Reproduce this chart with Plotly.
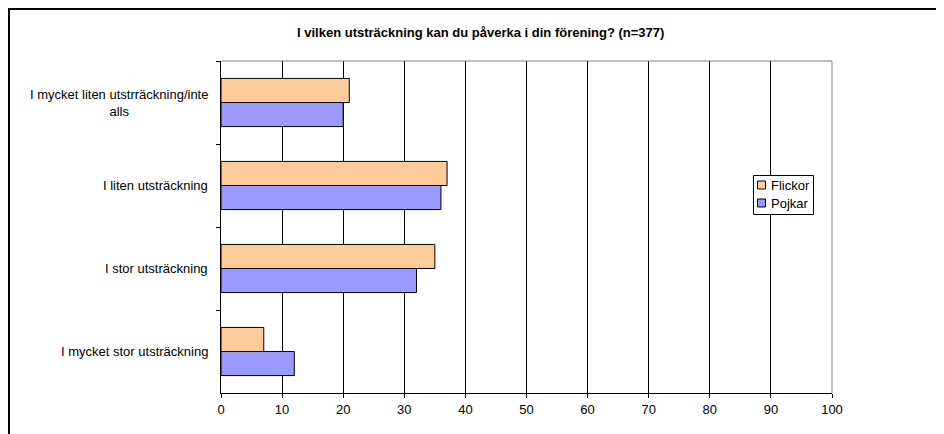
import plotly.graph_objects as go

categories = [
    "I mycket liten utstrräckning/inte<br>alls",
    "I liten utsträckning",
    "I stor utsträckning",
    "I mycket stor utsträckning",
]
series_names = ["Flickor", "Pojkar"]
flickor = [21, 37, 35, 7]
pojkar = [20, 36, 32, 12]
x_ticks = [0, 10, 20, 30, 40, 50, 60, 70, 80, 90, 100]
title = "I vilken utsträckning kan du påverka i din förening? (n=377)"

FONT = "Liberation Sans, Arial, sans-serif"
COLORS = ["#FFCC99", "#9999FF"]

# page pixel -> paper coords (plot area spans page x 221..832, y 61..393)
def px(x):
    return (x - 221) / 611

def py(y):
    return (393 - y) / 332

fig = go.Figure()
for name, vals, col in zip(series_names, [flickor, pojkar], COLORS):
    fig.add_trace(go.Bar(
        y=categories, x=vals, orientation="h", name=name,
        marker=dict(color=col, line=dict(color="#000000", width=1)),
        showlegend=False,
    ))

annotations = [
    dict(text=c, x=0, xref="paper", y=c, yref="y", xanchor="right", yanchor="middle",
         xshift=-11, align="center", showarrow=False,
         font=dict(family=FONT, size=13, color="#000"))
    for c in categories
]
annotations.append(dict(
    text="<b>" + title + "</b>", x=px(480.5), xref="paper", y=py(32), yref="paper",
    xanchor="center", yanchor="middle",
    showarrow=False, font=dict(family=FONT, size=13, color="#000"),
))

shapes = [
    dict(type="line", xref="paper", yref="paper", x0=0, x1=1, y0=1, y1=1,
         line=dict(color="#808080", width=1), layer="above"),
    dict(type="line", xref="paper", yref="paper", x0=1, x1=1, y0=0, y1=1,
         line=dict(color="#808080", width=1), layer="above"),
    dict(type="rect", xref="paper", yref="paper",
         x0=px(9), x1=px(980), y0=py(480), y1=py(9),
         line=dict(color="#000", width=2), layer="above"),
    # legend box
    dict(type="rect", xref="paper", yref="paper",
         x0=px(753.5), x1=px(813.5), y0=py(214.5), y1=py(175.5),
         line=dict(color="#000", width=1), fillcolor="white", layer="above"),
]
leg_rows = [185, 203]
for name, col, yc in zip(series_names, COLORS, leg_rows):
    shapes.append(dict(
        type="rect", xref="paper", yref="paper",
        x0=px(757.5), x1=px(765.5), y0=py(yc + 4), y1=py(yc - 4),
        line=dict(color="#000", width=1), fillcolor=col, layer="above"))
    annotations.append(dict(
        text=name, x=px(769), xref="paper", y=py(yc), yref="paper",
        xanchor="left", yanchor="middle", showarrow=False,
        font=dict(family=FONT, size=13, color="#000")))

fig.update_layout(
    width=936, height=426,
    margin=dict(l=213, r=112, t=53, b=41),
    paper_bgcolor="white", plot_bgcolor="white",
    barmode="group", bargap=0.42, bargroupgap=0,
    font=dict(family=FONT, size=13, color="#000"),
    showlegend=False,
    xaxis=dict(
        range=[0, 100], tickvals=x_ticks, ticks="outside", ticklen=4,
        tickcolor="#000", showgrid=True, gridcolor="#000", gridwidth=1,
        showline=True, linecolor="#000", linewidth=1, zeroline=False,
        tickfont=dict(family=FONT, size=13, color="#000"),
        fixedrange=True,
    ),
    yaxis=dict(
        type="category", categoryorder="array", categoryarray=categories,
        autorange="reversed", tickson="boundaries", ticks="outside", ticklen=4,
        tickcolor="#000", showticklabels=False, showgrid=False,
        showline=True, linecolor="#000", linewidth=1, zeroline=False,
    ),
    annotations=annotations,
    shapes=shapes,
)

fig.write_html("out.html")
